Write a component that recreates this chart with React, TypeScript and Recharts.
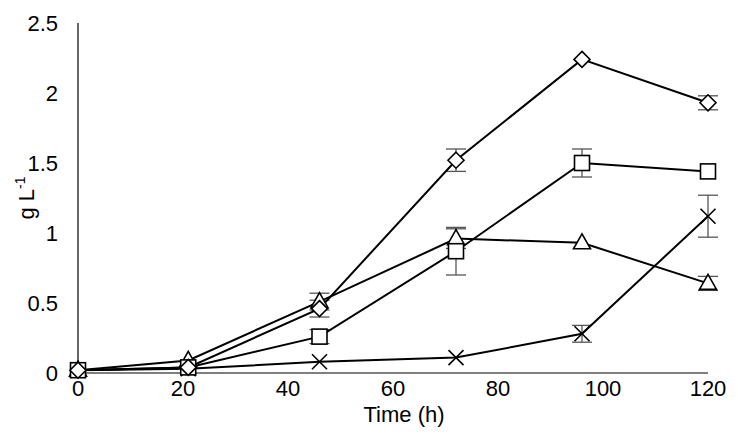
import React from "react"
import { ErrorBar, Line, LineChart, XAxis, YAxis } from "recharts"

const times = [0, 21, 46, 72, 96, 120]
const diamondVals = [0.02, 0.04, 0.46, 1.52, 2.24, 1.93]
const diamondErr = [null, null, 0.06, 0.08, null, 0.05]
const squareVals = [0.02, 0.04, 0.26, 0.87, 1.5, 1.44]
const squareErr = [null, null, 0.05, 0.17, 0.1, null]
const triangleVals = [0.02, 0.09, 0.51, 0.96, 0.93, 0.64]
const triangleErr = [null, null, 0.06, 0.07, null, 0.05]
const crossVals = [0.02, 0.03, 0.08, 0.11, 0.28, 1.12]
const crossErr = [null, null, null, null, 0.06, 0.15]
const xTicks = [0, 20, 40, 60, 80, 100, 120]
const yTicks = [0, 0.5, 1, 1.5, 2, 2.5]

const data = times.map((t, i) => ({
  t,
  d: diamondVals[i],
  dE: diamondErr[i],
  s: squareVals[i],
  sE: squareErr[i],
  tr: triangleVals[i],
  trE: triangleErr[i],
  x: crossVals[i],
  xE: crossErr[i],
}))

const FONT = "'Liberation Sans', Arial, sans-serif"

const Diamond = ({ cx, cy }: any) => (
  <polygon
    points={`${cx},${cy - 8} ${cx + 8},${cy} ${cx},${cy + 8} ${cx - 8},${cy}`}
    fill="#fff"
    stroke="#000"
    strokeWidth={1.6}
  />
)
const Square = ({ cx, cy }: any) => (
  <rect x={cx - 7.5} y={cy - 7.5} width={15} height={15} fill="#fff" stroke="#000" strokeWidth={1.6} />
)
const Triangle = ({ cx, cy }: any) => (
  <polygon
    points={`${cx},${cy - 9} ${cx + 8.5},${cy + 6} ${cx - 8.5},${cy + 6}`}
    fill="#fff"
    stroke="#000"
    strokeWidth={1.6}
  />
)
const Cross = ({ cx, cy }: any) => (
  <g stroke="#000" strokeWidth={1.6}>
    <line x1={cx - 7.5} y1={cy - 7.5} x2={cx + 7.5} y2={cy + 7.5} />
    <line x1={cx - 7.5} y1={cy + 7.5} x2={cx + 7.5} y2={cy - 7.5} />
  </g>
)

const YLabel = () => (
  <text
    transform="translate(34,198) rotate(-90)"
    textAnchor="middle"
    fontFamily={FONT}
    fontSize={22}
    fill="#000"
  >
    g L
    <tspan dy={-9} fontSize={14}>
      -1
    </tspan>
  </text>
)

const XLabel = () => (
  <text x={404} y={422} textAnchor="middle" fontFamily={FONT} fontSize={22} fill="#000">
    Time (h)
  </text>
)

const tickStyle = { fontFamily: FONT, fontSize: 22, fill: "#000" }

export default function App() {
  return (
    <div style={{ position: "absolute", left: 0, top: 0, background: "#fff" }}>
      <LineChart width={738} height={448} data={data} margin={{ top: 23, right: 30, bottom: 0, left: 0 }}>
        <XAxis
          dataKey="t"
          type="number"
          domain={[0, 120]}
          ticks={xTicks}
          tickLine={false}
          axisLine={{ stroke: "#000", strokeWidth: 1.2 }}
          tick={tickStyle}
          fontSize={22}
          fontFamily={FONT}
          tickMargin={1}
          height={75}
          label={<XLabel />}
        />
        <XAxis
          xAxisId="top"
          orientation="top"
          type="number"
          domain={[0, 120]}
          tick={false}
          tickLine={false}
          height={0}
          axisLine={{ stroke: "#000", strokeWidth: 1.2 }}
        />
        <YAxis
          type="number"
          domain={[0, 2.5]}
          ticks={yTicks}
          tickLine={false}
          axisLine={{ stroke: "#000", strokeWidth: 1.2 }}
          tick={tickStyle}
          fontSize={22}
          fontFamily={FONT}
          tickMargin={14}
          width={78}
          label={<YLabel />}
        />
        <YAxis
          yAxisId="right"
          orientation="right"
          type="number"
          domain={[0, 2.5]}
          tick={false}
          tickLine={false}
          width={0}
          axisLine={{ stroke: "#000", strokeWidth: 1.2 }}
        />
        <Line dataKey="x" stroke="#000" strokeWidth={2} isAnimationActive={false} dot={(p: any) => <Cross key={p.index} {...p} />}>
          <ErrorBar dataKey="xE" width={10} stroke="#555" strokeWidth={1.3} direction="y" />
        </Line>
        <Line dataKey="tr" stroke="#000" strokeWidth={2} isAnimationActive={false} dot={(p: any) => <Triangle key={p.index} {...p} />}>
          <ErrorBar dataKey="trE" width={10} stroke="#555" strokeWidth={1.3} direction="y" />
        </Line>
        <Line dataKey="s" stroke="#000" strokeWidth={2} isAnimationActive={false} dot={(p: any) => <Square key={p.index} {...p} />}>
          <ErrorBar dataKey="sE" width={10} stroke="#555" strokeWidth={1.3} direction="y" />
        </Line>
        <Line dataKey="d" stroke="#000" strokeWidth={2} isAnimationActive={false} dot={(p: any) => <Diamond key={p.index} {...p} />}>
          <ErrorBar dataKey="dE" width={10} stroke="#555" strokeWidth={1.3} direction="y" />
        </Line>
      </LineChart>
    </div>
  )
}
